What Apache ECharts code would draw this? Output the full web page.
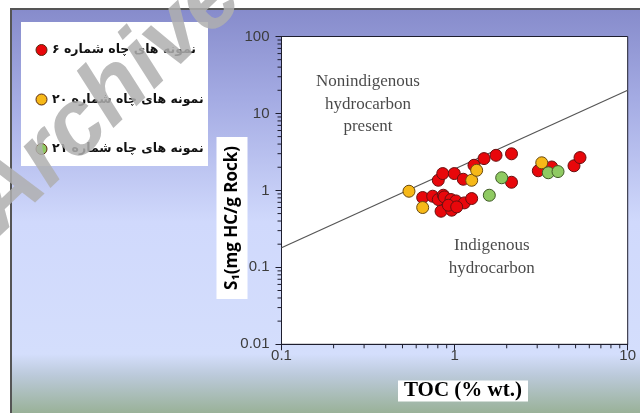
<!DOCTYPE html>
<html>
<head>
<meta charset="utf-8">
<script src="https://cdn.jsdelivr.net/npm/echarts@6/dist/echarts.min.js"></script>
<style>
html,body{margin:0;padding:0;background:#fff;}
#chart{width:640px;height:413px;}
</style>
</head>
<body>
<div id="chart"></div>
<script>
// ---- data ----
const seriesNames = ['نمونه های چاه شماره ۶', 'نمونه های چاه شماره ۲۰', 'نمونه های چاه شماره ۲۱'];
const well6 = [[0.805,1.354],[0.854,1.655],[0.996,1.655],[1.122,1.396],[1.294,2.121],[1.479,2.590],[1.735,2.858],[2.132,2.990],[2.132,1.276],[0.654,0.808],[0.747,0.840],[0.805,0.761],[0.861,0.865],[0.872,0.823],[0.953,0.761],[1.019,0.730],[1.138,0.688],[1.255,0.784],[0.835,0.536],[0.962,0.553],[0.920,0.642],[1.028,0.610],[3.045,1.799],[3.639,2.016],[4.895,2.089],[5.302,2.669]];
const well20 = [[0.545,0.975],[0.654,0.599],[1.255,1.354],[1.341,1.826],[3.187,2.285]];
const well21 = [[1.587,0.865],[1.871,1.460],[3.478,1.695],[3.957,1.757]];
const boundaryLine = [[0.1,0.18],[10,20]];
const xTickLabels = ['0.1','1','10'];
const yTickLabels = ['0.01','0.1','1','10','100'];
const xMinorTicks = [0.2,0.3,0.4,0.5,0.6,0.7,0.8,0.9,2,3,4,5,6,7,8,9];
const yMinorTicks = [0.02,0.03,0.04,0.05,0.06,0.07,0.08,0.09,0.2,0.3,0.4,0.5,0.6,0.7,0.8,0.9,2,3,4,5,6,7,8,9,20,30,40,50,60,70,80,90];
const annotations = [
  {text:'Nonindigenous\nhydrocarbon\npresent', at:[0.316,13.1]},
  {text:'Indigenous\nhydrocarbon', at:[1.64,0.136]}
];
const xTitle = 'TOC (% wt.)';
const yTitle = 'S₁(mg HC/g Rock)';

const X_MIN = 0.1, X_MAX = 10, Y_MIN = 0.01, Y_MAX = 100;
function pick(labels, v){
  for (const l of labels){ if (Math.abs(Math.log10(parseFloat(l)) - Math.log10(v)) < 1e-6) return l; }
  return '';
}

const chart = echarts.init(document.getElementById('chart'), null, {renderer:'canvas'});
const tickColor = '#1e1e2e';
const ptBorder = '#5a2a10';

const option = {
  animation:false,
  backgroundColor:'#ffffff',
  graphic:[
    {type:'rect', z:-10, silent:true, shape:{x:11, y:9, width:640, height:410},
     style:{fill:new echarts.graphic.LinearGradient(0,0,0,1,[
       {offset:0, color:'#868bcb'},
       {offset:0.22, color:'#a4abe3'},
       {offset:0.52, color:'#d0d9fc'},
       {offset:0.84, color:'#d4defc'},
       {offset:0.89, color:'#bccadb'},
       {offset:1, color:'#93ad8c'}
     ]), stroke:'#555555', lineWidth:2}},
    {type:'rect', z:-5, silent:true, shape:{x:21, y:22, width:187, height:144}, style:{fill:'#ffffff'}},
    {type:'text', z:5, silent:true, x:232, y:218, rotation:Math.PI/2,
     style:{text:yTitle, font:'bold 17px "Open Sans", "DejaVu Sans", sans-serif', fill:'#000',
       align:'center', verticalAlign:'middle', backgroundColor:'#fff', padding:[7,9,7,9]}},
    {type:'text', z:5, silent:true, x:463, y:391,
     style:{text:xTitle, font:'bold 21px "Liberation Serif", serif', fill:'#000',
       align:'center', verticalAlign:'middle', backgroundColor:'#fff', padding:[0,6,0,6]}},
    {type:'text', z:100, silent:true, x:106, y:100, rotation:0.76,
     style:{text:'Archive', font:'italic bold 92px "Liberation Sans", sans-serif', fill:'rgba(175,175,175,0.85)',
       align:'center', verticalAlign:'middle'}}
  ],
  legend:{
    orient:'vertical', left:30.5, top:37, itemWidth:11, itemHeight:11, itemGap:33.5,
    icon:'circle', data:seriesNames,
    textStyle:{fontFamily:'"DejaVu Sans", sans-serif', fontWeight:'bold', fontSize:12.5, color:'#111', lineHeight:16},
    itemStyle:{borderColor:ptBorder, borderWidth:1}
  },
  grid:{left:281.5, right:12.3, top:36.5, bottom:68.7, show:true, backgroundColor:'#ffffff', borderColor:tickColor, borderWidth:1},
  xAxis:{
    type:'log', logBase:10, min:X_MIN, max:X_MAX,
    axisLine:{show:true, lineStyle:{color:tickColor, width:1}},
    axisTick:{show:true, length:6, lineStyle:{color:tickColor, width:1}},
    axisLabel:{margin:4, color:'#3c3c3c', fontFamily:'"Liberation Sans", Arial, sans-serif', fontSize:15,
      formatter:v=>pick(xTickLabels, v)},
    splitLine:{show:false}
  },
  yAxis:{
    type:'log', logBase:10, min:Y_MIN, max:Y_MAX,
    axisLine:{show:true, lineStyle:{color:tickColor, width:1}},
    axisTick:{show:true, length:6, lineStyle:{color:tickColor, width:1}},
    axisLabel:{margin:12, color:'#3c3c3c', fontFamily:'"Liberation Sans", Arial, sans-serif', fontSize:15,
      formatter:v=>pick(yTickLabels, v)},
    splitLine:{show:false}
  },
  series:[
    {type:'custom', silent:true, z:10, data:xMinorTicks.map(v=>[v, Y_MIN]), clip:false,
     renderItem:(params, api)=>{
       const p = api.coord([api.value(0), api.value(1)]);
       return {type:'line', shape:{x1:p[0], y1:p[1], x2:p[0], y2:p[1]+4}, style:{stroke:tickColor, lineWidth:1, fill:null}};
     }},
    {type:'custom', silent:true, z:10, data:yMinorTicks.map(v=>[X_MIN, v]), clip:false,
     renderItem:(params, api)=>{
       const p = api.coord([api.value(0), api.value(1)]);
       return {type:'line', shape:{x1:p[0]-4, y1:p[1], x2:p[0], y2:p[1]}, style:{stroke:tickColor, lineWidth:1, fill:null}};
     }},
    {type:'line', silent:true, z:2, data:boundaryLine, symbol:'none', lineStyle:{color:'#555', width:1.2}},
    {type:'scatter', silent:true, z:2, symbolSize:0, data:annotations.map(a=>({value:a.at, text:a.text})),
     label:{show:true, position:'inside', formatter:p=>p.data.text, fontFamily:'"Liberation Serif", serif',
       fontSize:17, lineHeight:22.5, color:'#1a1a1a', align:'center', verticalAlign:'middle'}},
    {name:seriesNames[0], type:'scatter', z:3, data:well6, symbol:'circle', symbolSize:12,
     itemStyle:{color:'#e8070b', borderColor:'#6a1010', borderWidth:1, opacity:1}},
    {name:seriesNames[1], type:'scatter', z:4, data:well20, symbol:'circle', symbolSize:12,
     itemStyle:{color:'#f6b818', borderColor:'#6a4a10', borderWidth:1, opacity:1}},
    {name:seriesNames[2], type:'scatter', z:5, data:well21, symbol:'circle', symbolSize:12,
     itemStyle:{color:'#8fca62', borderColor:'#3f5a25', borderWidth:1, opacity:1}}
  ]
};
chart.setOption(option);
</script>
</body>
</html>
